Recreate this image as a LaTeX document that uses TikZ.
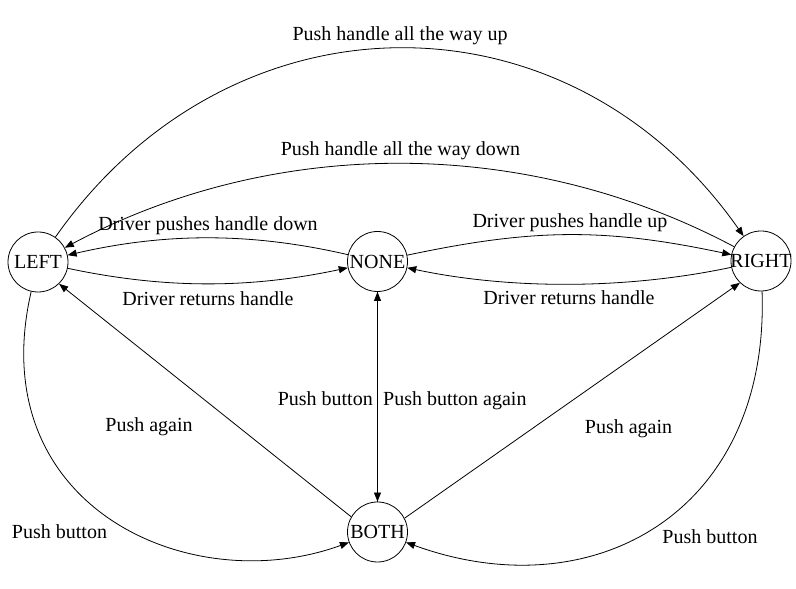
\documentclass[tikz,border=0pt]{standalone}
\usepackage{fontspec}
\setmainfont{Liberation Serif}
\usetikzlibrary{arrows.meta}

\begin{document}
\begin{tikzpicture}[x=1pt, y=1pt,
    state/.style={draw, circle, line width=0.8pt, minimum size=60pt, inner sep=0pt, font=\fontsize{20}{24}\selectfont},
    trans/.style={line width=0.8pt, -{Triangle[length=9pt, width=7pt]}},
    lbl/.style={anchor=base, inner sep=0pt, font=\fontsize{20}{24}\selectfont}]
    \useasboundingbox (0,0) rectangle (796,589);

    % States
    \node[state] (LEFT) at (38,327) {\makebox[0pt]{LEFT}};
    \node[state] (NONE) at (377.5,327.5) {\makebox[0pt]{NONE}};
    \node[state] (RIGHT) at (761,328) {\makebox[0pt]{RIGHT}};
    \node[state] (BOTH) at (377.5,57) {\makebox[0pt]{BOTH}};

    % Handle all the way
    \draw[trans] (LEFT) to[out=55, in=125, distance=306pt] (RIGHT);
    \draw[trans] (RIGHT) to[out=152, in=28, distance=237pt] (LEFT);
    \node[lbl] (upLbl) at (400,548) {Push handle all the way up};
    \node[lbl] (downLbl) at (400.5,433) {Push handle all the way down};

    % Driver moves the handle
    \draw[trans] (NONE) to[out=167, in=13, distance=100pt] (LEFT);
    \draw[trans] (LEFT) to[out=-12, in=192, distance=100pt] (NONE);
    \draw[trans] (NONE) to[out=12, in=168, distance=129pt] (RIGHT);
    \draw[trans] (RIGHT) to[out=192, in=-12, distance=106pt] (NONE);
    \node[lbl] (pushDownLbl) at (208,358) {Driver pushes handle down};
    \node[lbl] (returnLeftLbl) at (208,283) {Driver returns handle};
    \node[lbl] (pushUpLbl) at (570,361) {Driver pushes handle up};
    \node[lbl] (returnRightLbl) at (569,284) {Driver returns handle};

    % Buttons
    \draw[trans] (NONE) -- (BOTH);
    \draw[trans] (BOTH) -- (NONE);
    \node[lbl, anchor=base east] (buttonLbl) at (373,183) {Push button};
    \node[lbl, anchor=base west] (againLbl) at (383,183) {Push button again};

    \draw[trans] (BOTH.150) -- (LEFT.-46);
    \draw[trans] (BOTH.27) -- (RIGHT.226);
    \node[lbl] (againLeftLbl) at (149,157) {Push again};
    \node[lbl] (againRightLbl) at (628.5,155) {Push again};

    \draw[trans] (LEFT) to[out=257, in=200, out distance=220pt, in distance=170pt] (BOTH);
    \draw[trans] (RIGHT) to[out=272, in=340, out distance=220pt, in distance=200pt] (BOTH);
    \node[lbl] (buttonLeftLbl) at (59.5,50) {Push button};
    \node[lbl] (buttonRightLbl) at (710,45) {Push button};
\end{tikzpicture}
\end{document}
